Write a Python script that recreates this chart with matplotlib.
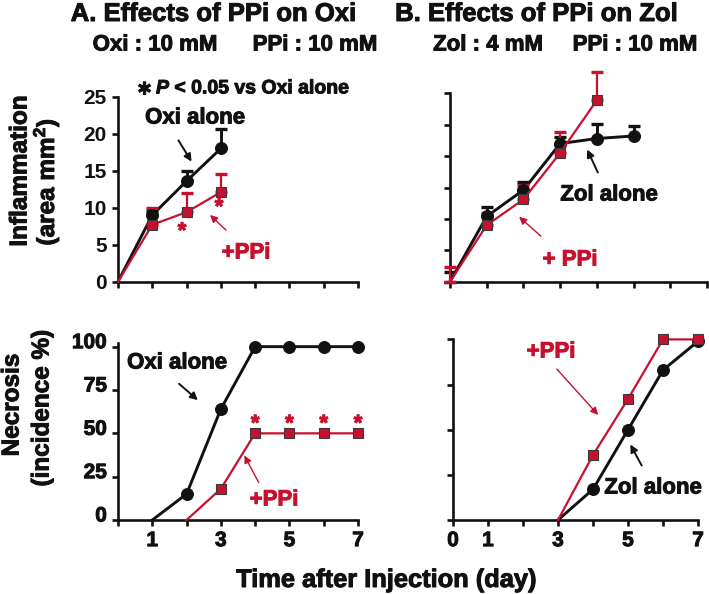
import numpy as np
import matplotlib
matplotlib.use('Agg')
import matplotlib.pyplot as plt
import matplotlib.patheffects as pe
from matplotlib.transforms import ScaledTranslation

plt.rcParams['font.family'] = ['Liberation Sans', 'DejaVu Sans']
plt.rcParams['font.weight'] = 'bold'
plt.rcParams['mathtext.fontset'] = 'custom'
plt.rcParams['mathtext.it'] = 'Liberation Sans:italic:bold'
plt.rcParams['mathtext.rm'] = 'Liberation Sans:bold'

RED = '#C8102E'
BLACK = '#111111'

# ---------------- data ----------------
# Inflammation (area mm2), Oxi panel
infl_days_oxi = [0, 1, 2, 3]
infl_oxi = [0, 9.0, 13.6, 18.0]
infl_oxi_err = [0, 0.6, 1.4, 2.7]
infl_oxi_ppi = [0, 7.7, 9.4, 12.1]
infl_oxi_ppi_err = [0, 2.2, 2.6, 2.4]

# Inflammation, Zol panel (unlabelled axis, ticks every 5)
infl_days_zol = [0, 1, 2, 3, 4, 5]
infl_zol = [0, 10.4, 14.6, 22.0, 22.8, 23.2]
infl_zol_err = [1.6, 1.5, 1.2, 1.0, 2.3, 1.6]
infl_days_zol_ppi = [0, 1, 2, 3, 4]
infl_zol_ppi = [0, 9.0, 13.1, 20.5, 28.9]
infl_zol_ppi_err = [2.3, 1.9, 2.3, 3.3, 4.5]

# Necrosis (incidence %)
nec_days_oxi = [1, 2, 3, 4, 5, 6, 7]
nec_oxi = [0, 15, 64, 100, 100, 100, 100]
nec_days_oxi_ppi = [2, 3, 4, 5, 6, 7]
nec_oxi_ppi = [0, 18, 50, 50, 50, 50]
nec_sig_days = [4, 5, 6, 7]

nec_days_zol = [3, 4, 5, 6, 7]
nec_zol = [0, 17, 50, 83, 99]
nec_zol_ppi = [0, 36, 67, 100, 100]

days_all = [0, 1, 2, 3, 4, 5, 6, 7]
infl_ticks_a = [0, 5, 10, 15, 20, 25]
infl_ticks_b = [0, 5, 10, 15, 20, 25, 30]
nec_ticks = [0, 25, 50, 75, 100]
xlabels_a = ['', '1', '', '3', '', '5', '', '7']
xlabels_b = ['0', '1', '', '3', '', '5', '', '7']

W, H = 709, 594
fig = plt.figure(figsize=(W / 100, H / 100), dpi=100)


def fx(x):
    return x / W


def fy(y):
    return 1 - y / H


def make_ax(left, right, top, bottom):
    ax = fig.add_axes([fx(left), fy(bottom), (right - left) / W, (bottom - top) / H])
    for s in ['top', 'right']:
        ax.spines[s].set_visible(False)
    for s in ['left', 'bottom']:
        ax.spines[s].set_linewidth(1.9)
        ax.spines[s].set_color(BLACK)
    ax.tick_params(axis='both', direction='out', length=4, width=1.9, colors=BLACK,
                   labelsize=15, pad=4)
    ax.patch.set_alpha(0)
    return ax


def series(ax, days, vals, color, marker, ms, lw, first, err=None, z=3):
    ax.plot(days, vals, color=color, lw=lw, zorder=z, clip_on=False)
    ax.plot(days[first:], vals[first:], ls='none', marker=marker, ms=ms,
            mfc=color, mec='#3a3a3a' if marker == 's' else color, mew=0.8,
            zorder=z + 1, clip_on=False)
    if err is not None:
        for d, v, e in zip(days, vals, err):
            if e > 0:
                eb = ax.errorbar([d], [v], yerr=[[0], [e]], fmt='none', ecolor=color,
                                 elinewidth=lw, capsize=4, capthick=2.4, zorder=z - 1)
                for art in list(eb.lines[1]) + list(eb.lines[2]):
                    art.set_clip_on(False)


# ---------- panel A top ----------
axA1 = make_ax(118, 358, 96.7, 281.7)
axA1.set_xlim(0, 7)
axA1.set_ylim(0, 25)
axA1.set_xticks(days_all)
axA1.set_xticklabels([])
axA1.set_yticks(infl_ticks_a)
series(axA1, infl_days_oxi, infl_oxi, BLACK, 'o', 8.5, 2.1, 1, infl_oxi_err, z=4)
series(axA1, infl_days_oxi, infl_oxi_ppi, RED, 's', 6.5, 1.6, 1, infl_oxi_ppi_err, z=5)

# ---------- panel B top ----------
axB1 = make_ax(450, 707, 93.3, 281.7)
axB1.set_xlim(0, 7)
axB1.set_ylim(0, 30)
axB1.set_xticks(days_all)
axB1.set_xticklabels([])
axB1.set_yticks(infl_ticks_b)
axB1.set_yticklabels([])
series(axB1, infl_days_zol, infl_zol, BLACK, 'o', 8.5, 2.1, 1, infl_zol_err, z=4)
series(axB1, infl_days_zol_ppi, infl_zol_ppi, RED, 's', 6.5, 1.6, 1, infl_zol_ppi_err, z=5)

# ---------- panel A bottom ----------
axA2 = make_ax(118, 358, 343.2, 520)
axA2.set_xlim(0, 7)
axA2.set_ylim(0, 102)
axA2.set_xticks(days_all)
axA2.set_xticklabels(xlabels_a)
axA2.set_yticks(nec_ticks)
for lab in axA2.get_yticklabels():
    lab.set_transform(lab.get_transform() + ScaledTranslation(0, 0.06, fig.dpi_scale_trans))
series(axA2, nec_days_oxi, nec_oxi, BLACK, 'o', 8.5, 2.1, 1, z=4)
series(axA2, nec_days_oxi_ppi, nec_oxi_ppi, RED, 's', 6.5, 1.6, 1, z=5)
for d in nec_sig_days:
    axA2.text(d, 49, '*', color=RED, fontsize=16, ha='center', va='bottom')

# ---------- panel B bottom ----------
axB2 = make_ax(453, 698, 338.5, 520)
axB2.set_xlim(0, 7)
axB2.set_ylim(0, 100.5)
axB2.set_xticks(days_all)
axB2.set_xticklabels(xlabels_b)
axB2.set_yticks(nec_ticks)
axB2.set_yticklabels([])
series(axB2, nec_days_zol, nec_zol, BLACK, 'o', 8.5, 2.1, 1, z=4)
series(axB2, nec_days_zol, nec_zol_ppi, RED, 's', 6.5, 1.6, 1, z=5)

# ---------- texts ----------
def ftext(x, y, s, size, color=BLACK, **kw):
    return fig.text(fx(x), fy(y), s, fontsize=size, color=color, ha=kw.pop('ha', 'center'),
                    va=kw.pop('va', 'center'), fontweight='bold', **kw)


ftext(214, 14, 'A. Effects of PPi on Oxi', 18.5)
ftext(537, 14, 'B. Effects of PPi on Zol', 18.5)
ftext(155, 45, 'Oxi : 10 mM', 16)
ftext(315, 45, 'PPi : 10 mM', 16)
ftext(488, 45, 'Zol : 4 mM', 16)
ftext(635, 45, 'PPi : 10 mM', 16)
ftext(144.5, 89, '\u2217', 14.5, family=['DejaVu Sans'])
ftext(156, 89, r'$\it{P}$ < 0.05 vs Oxi alone', 14, ha='left')

ftext(20, 171, 'Inflammation', 17.5, rotation=90)
ftext(46, 182, '(area mm$^{2}$)', 17.5, rotation=90)
ftext(12, 405, 'Necrosis', 17.5, rotation=90)
ftext(42, 408, '(incidence %)', 17.5, rotation=90)
ftext(386, 580, 'Time after Injection (day)', 18.3)


def arrow_label(x, y, s, color, tail, head, lw):
    ftext(x, y, s, 16, color=color)
    fig.add_artist(matplotlib.patches.FancyArrowPatch(
        (fx(tail[0]), fy(tail[1])), (fx(head[0]), fy(head[1])),
        transform=fig.transFigure, arrowstyle='-|>', mutation_scale=11,
        color=color, lw=lw))


arrow_label(195, 118, 'Oxi alone', BLACK, (177, 138), (193, 164), 1.4)
arrow_label(246, 253, '+PPi', RED, (228, 232), (208, 213), 1.0)
ftext(182, 232, '*', 16, color=RED)
ftext(219, 208, '*', 16, color=RED)

arrow_label(609, 195, 'Zol alone', BLACK, (599, 175), (586, 147), 1.4)
arrow_label(570, 260, '+ PPi', RED, (543, 238), (517, 215), 1.0)

arrow_label(177, 363, 'Oxi alone', BLACK, (177, 382), (200, 402), 1.4)
arrow_label(274, 500, '+PPi', RED, (260, 485), (243, 453), 1.0)

arrow_label(551, 352, '+PPi', RED, (555, 367), (600, 417), 1.0)
arrow_label(653, 488, 'Zol alone', BLACK, (643, 468), (629, 442), 1.4)

# slightly heavier strokes for all text, like the reference
for t in fig.findobj(matplotlib.text.Text):
    if t.get_text():
        t.set_path_effects([pe.withStroke(linewidth=0.7, foreground=t.get_color())])

fig.savefig('out.png', dpi=100)
